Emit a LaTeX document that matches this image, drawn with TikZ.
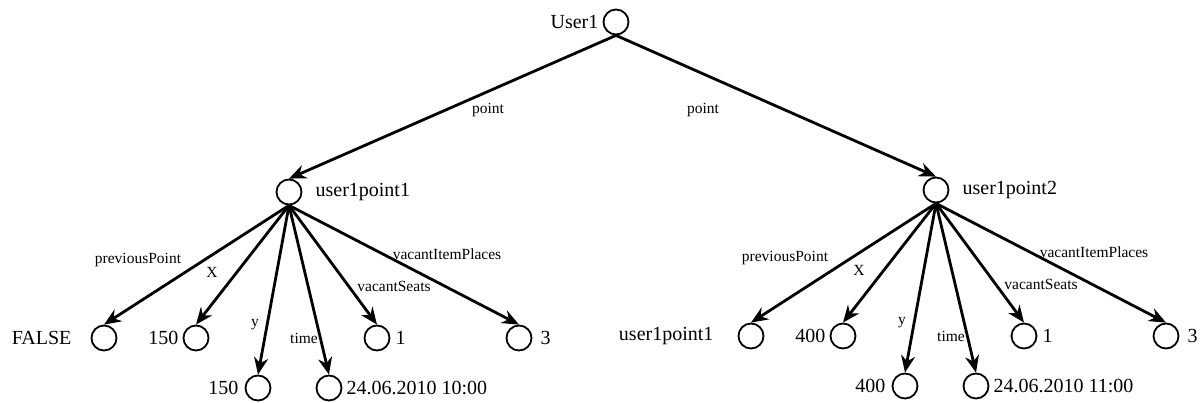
\documentclass[tikz,border=0pt]{standalone}
\usepackage{fontspec}
\setmainfont{Liberation Serif}
\newfontfamily\labelfont{Liberation Serif}
\usetikzlibrary{arrows.meta}

\tikzset{
  vert/.style={circle, draw, line width=1.8pt, minimum size=25pt, inner sep=0pt},
  big/.style={font=\labelfont\fontsize{20}{22}\selectfont, inner sep=0pt},
  small/.style={font=\labelfont\fontsize{15.5}{17}\selectfont, inner sep=0pt},
  link/.style={line width=2.8pt, -{Stealth[length=17pt,width=14pt,inset=5.5pt]}},
}

% One point with its six properties.
% #1 position, #2 name prefix, #3 point name, #4 previous point value,
% #5 coordinate value, #6 time stamp, #7 gap before the previous value
\newcommand\pointtree[7]{%
\begin{scope}[shift={(#1)}, name prefix=#2-]
  \node[vert] (p) at (0,0) {};
  \node[big, anchor=west, xshift=13pt] (pl) at (p.east) {#3};
  \node[vert] (prev) at (-185,146) {};
  \node[vert] (xv)   at (-93,146)  {};
  \node[vert] (yv)   at (-31,196)  {};
  \node[vert] (tv)   at (40,196)   {};
  \node[vert] (sv)   at (88,146)   {};
  \node[vert] (iv)   at (230,146)  {};
  \node[big, anchor=east, xshift=-#7] (prevl) at (prev.west) {#4};
  \node[big, anchor=east, xshift=-4pt] (xl) at (xv.west) {#5};
  \node[big, anchor=east, xshift=-6pt] (yl) at (yv.west) {#5};
  \node[big, anchor=west, xshift=4pt]  (tl) at (tv.east) {#6};
  \node[big, anchor=west, xshift=5pt]  (sl) at (sv.east) {1};
  \node[big, anchor=west, xshift=8pt]  (il) at (iv.east) {3};
  \draw[link] (p.south) -- (prev.north);
  \draw[link] (p.south) -- (xv.north);
  \draw[link] (p.south) -- (yv.north);
  \draw[link] (p.south) -- (tv.north);
  \draw[link] (p.south) -- (sv.north);
  \draw[link] (p.south) -- (iv.north);
  \node[small] (e1) at (-151,68)  {previousPoint};
  \node[small] (e2) at (-77,80)   {X};
  \node[small] (e3) at (-34,133)  {y};
  \node[small] (e4) at (15,146)   {time};
  \node[small] (e5) at (105,94)   {vacantSeats};
  \node[small] (e6) at (158,62)   {vacantItemPlaces};
\end{scope}}

\begin{document}
\begin{tikzpicture}[x=1pt, y=-1pt]
\useasboundingbox (0,0) rectangle (1204,403);

\node[vert] (u) at (616,22) {};
\node[big, anchor=east, xshift=-4pt] (ul) at (u.west) {User1};

\pointtree{289,192}{a}{user1point1}{FALSE}{150}{24.06.2010 10:00}{19pt}
\pointtree{936,190}{b}{user1point2}{user1point1}{400}{24.06.2010 11:00}{24pt}

\draw[link] (u.south) -- (a-p.north);
\draw[link] (u.south) -- (b-p.north);
\node[small] (la) at (488,110) {point};
\node[small] (lb) at (703,110) {point};
\end{tikzpicture}
\end{document}
